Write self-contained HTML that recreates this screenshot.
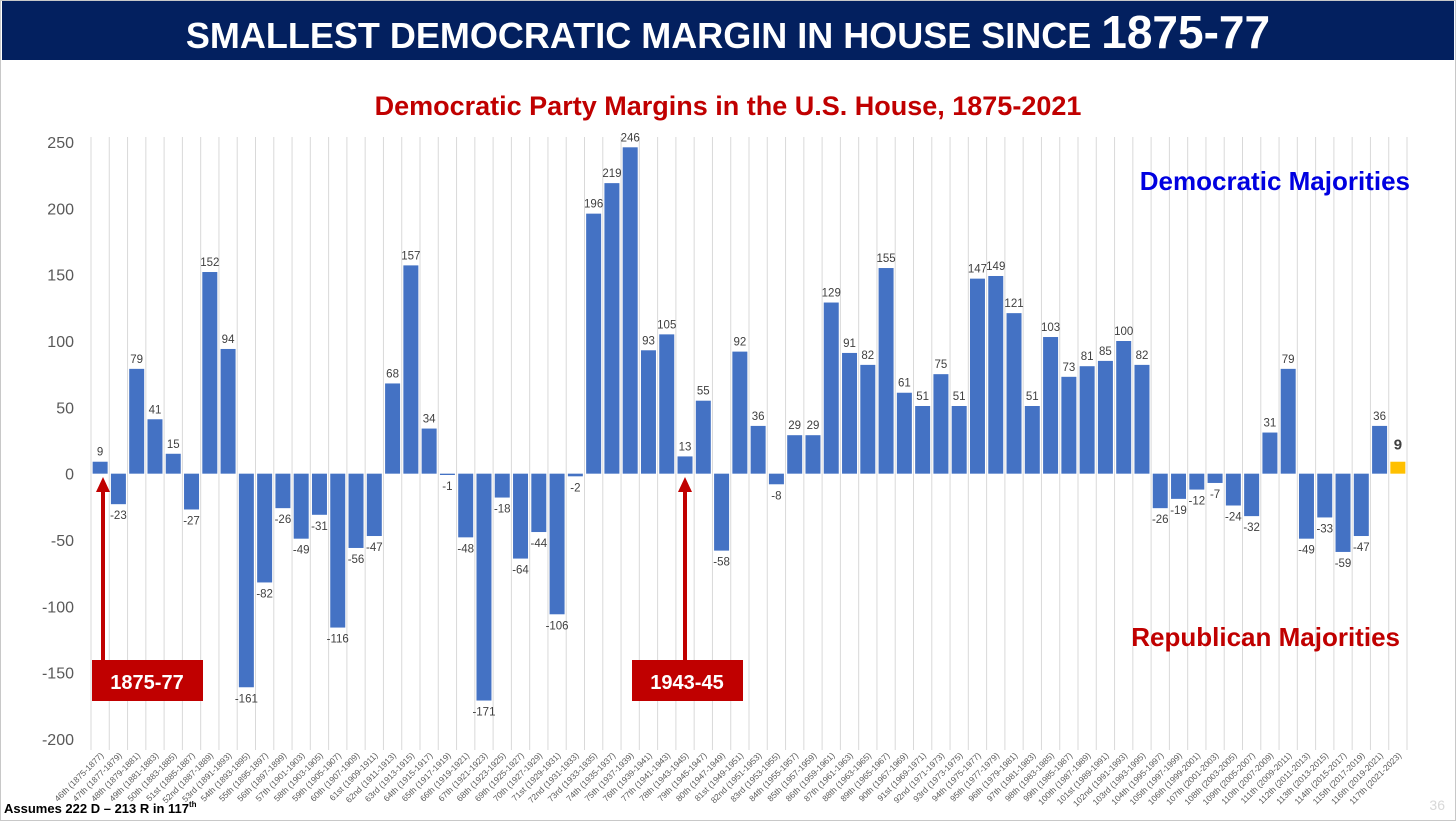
<!DOCTYPE html>
<html><head><meta charset="utf-8"><style>
body{margin:0;width:1456px;height:821px;overflow:hidden;background:#fff;font-family:"Liberation Sans",Arial,sans-serif;}
</style></head><body>
<svg id="c" width="1456" height="821" xmlns="http://www.w3.org/2000/svg">
<rect x="0.5" y="0.5" width="1455" height="820" fill="#fff" stroke="#c8c8c8"/>
<rect x="2" y="1" width="1452" height="59" fill="#03205f"/>
<text x="728" y="48" text-anchor="middle" fill="#fff" font-weight="bold" font-size="36">SMALLEST DEMOCRATIC MARGIN IN HOUSE SINCE <tspan font-size="46">1875-77</tspan></text>
<text x="728" y="115" text-anchor="middle" fill="#c00000" font-weight="bold" font-size="27">Democratic Party Margins in the U.S. House, 1875-2021</text>
<g id="grid"></g><g id="yax"></g><g id="bars"></g><g id="xlab"></g>
<text x="1410" y="190" text-anchor="end" fill="#0000e0" font-weight="bold" font-size="26">Democratic Majorities</text>
<text x="1400" y="646" text-anchor="end" fill="#c00000" font-weight="bold" font-size="26">Republican Majorities</text>
<g>
<line x1="103" y1="660" x2="103" y2="490" stroke="#c00000" stroke-width="4"/>
<polygon points="103,477 96,492 110,492" fill="#c00000"/>
<rect x="92" y="660" width="111" height="41" fill="#c00000"/>
<text x="147" y="689" text-anchor="middle" fill="#fff" font-weight="bold" font-size="20">1875-77</text>
</g>
<g>
<line x1="685" y1="660" x2="685" y2="490" stroke="#c00000" stroke-width="4"/>
<polygon points="685,477 678,492 692,492" fill="#c00000"/>
<rect x="632" y="660" width="111" height="41" fill="#c00000"/>
<text x="687" y="689" text-anchor="middle" fill="#fff" font-weight="bold" font-size="20">1943-45</text>
</g>
<text x="4" y="813" font-size="13" font-weight="bold" fill="#000">Assumes 222 D – 213 R in 117<tspan font-size="8" dy="-6">th</tspan></text>
<text x="1445" y="810" text-anchor="end" font-size="14" fill="#d8d8d8">36</text>
</svg>
<script>
const congresses=[];for(let n=46;n<=117;n++)congresses.push(n);
const margins=[9,-23,79,41,15,-27,152,94,-161,-82,-26,-49,-31,-116,-56,-47,68,157,34,-1,-48,-171,-18,-64,-44,-106,-2,196,219,246,93,105,13,55,-58,92,36,-8,29,29,129,91,82,155,61,51,75,51,147,149,121,51,103,73,81,85,100,82,-26,-19,-12,-7,-24,-32,31,79,-49,-33,-59,-47,36,9];
const yTicks=[250,200,150,100,50,0,-50,-100,-150,-200];
const earlyStarts=[1875,1877,1879,1881,1883,1885,1887,1891,1893,1895,1897];
function ord(n){const t=n%100;if(t>=11&&t<=13)return n+'th';const d=n%10;return n+(d==1?'st':d==2?'nd':d==3?'rd':'th');}
const xLabels=congresses.map((n,i)=>{const s=i<earlyStarts.length?earlyStarts[i]:1789+2*(n-1);return ord(n)+' ('+s+'-'+(s+2)+')';});
const NS='http://www.w3.org/2000/svg';
const L=91,R=1407,yTop=142,yBot=739,vMax=250,vMin=-200;
const band=(R-L)/margins.length;
const y=v=>yTop+(vMax-v)*(yBot-yTop)/(vMax-vMin);
const xc=i=>L+band*(i+0.5);
function mk(tag,attrs,parent){const e=document.createElementNS(NS,tag);for(const k in attrs)e.setAttribute(k,attrs[k]);document.getElementById(parent).appendChild(e);return e;}
for(let i=0;i<=margins.length;i++){
 const g=mk('line',{x1:L+band*i,x2:L+band*i,y1:137,y2:750,stroke:'#d9d9d9','stroke-width':1},'grid');
 
 
}
yTicks.forEach(v=>{
 const t=mk('text',{x:74,y:y(v)+6,'text-anchor':'end','font-size':16,fill:'#595959'},'yax');t.textContent=v;
 
 
});
margins.forEach((v,i)=>{
 const last=i===margins.length-1;
 const w=band*0.82;
 const r=mk('rect',{x:xc(i)-w/2,y:Math.min(y(v),y(0)),width:w,height:Math.abs(y(v)-y(0)),fill:last?'#ffc000':'#4472c4'},'bars');
 
 
 const t=mk('text',{x:xc(i),y:v>=0?y(v)-6:y(v)+15,'text-anchor':'middle','font-size':last?15:11.5,'font-weight':last?'bold':'normal',fill:'#404040'},'bars');
 if(last){t.setAttribute('y',y(v)-12);}
 t.textContent=v;
 
 
 const xl=mk('text',{x:0,y:0,'text-anchor':'end','font-size':8.5,fill:'#595959',transform:'translate('+(xc(i)+4)+',756) rotate(-45)'},'xlab');
 xl.textContent=xLabels[i];
 
 
});
</script>
</body></html>
